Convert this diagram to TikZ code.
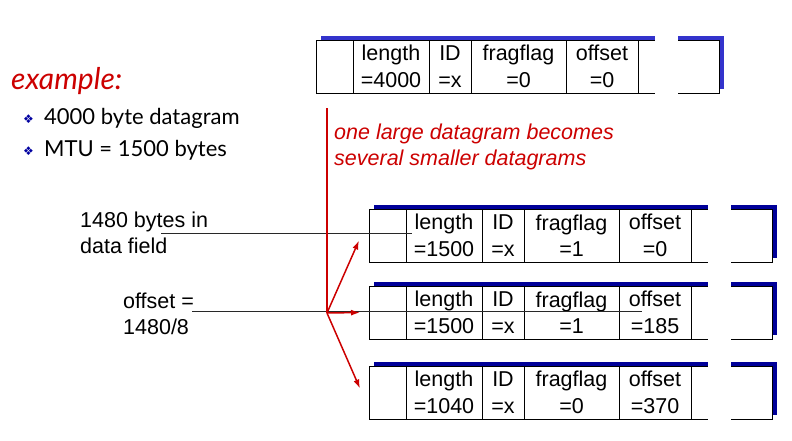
\documentclass[tikz,border=0pt]{standalone}
\usepackage{fontspec}
\setmainfont{Liberation Sans}
\newfontfamily\gillfont{Lato}
\newfontfamily\symbfont{DejaVu Sans}
\usepackage{xcolor}
\usepackage{tikz}
\usetikzlibrary{
  arrows.meta,
  positioning
}
\definecolor{FragRed}{RGB}{204, 0, 0}
\definecolor{ShadowBlue}{RGB}{51, 51, 204}
\definecolor{ShadowNavy}{RGB}{0, 0, 153}
\definecolor{BulletBlue}{RGB}{0, 0, 160}
\definecolor{PointerGray}{RGB}{40, 40, 40}
\tikzset{
    cell/.style={draw, fill=white, line width=1pt, inner sep=0pt, outer sep=0pt, minimum height=53pt,
        anchor=north west, align=center, font=\fontsize{21.5}{26.5}\selectfont},
    fragline/.style={draw=FragRed, line width=1.5pt},
    fragarrow/.style={fragline, -{Latex[length=9pt,width=6pt]}},
    pointer/.style={draw=PointerGray, line width=0.8pt},
    label/.style={anchor=west, inner sep=0pt, align=left, font=\fontsize{21.5}{26}\selectfont}
}
\newcommand{\pkt}[7]{%
    \fill[#7] (#2+5,#3-4.5) rectangle ++(403,53);
    \node[cell, minimum width=37pt] (#1-h) at (#2,#3) {};
    \node[cell, minimum width=76pt] (#1-len) at (#2+37,#3) {length\\=#4};
    \node[cell, minimum width=42pt] (#1-id) at (#2+113,#3) {ID\\=x};
    \node[cell, minimum width=95pt] (#1-flag) at (#2+155,#3) {fragflag\\=#5};
    \node[cell, minimum width=72pt] (#1-off) at (#2+250,#3) {offset\\=#6};
    \node[cell, minimum width=81pt] (#1-data) at (#2+322,#3) {};
    \fill[white] (#2+339,#3-6) rectangle (#2+362,#3+55);
}

\begin{document}
\begin{tikzpicture}[x=1pt, y=-1pt]
    \useasboundingbox (0,0) rectangle (792,440);

    \node[anchor=west, inner sep=0pt, text=FragRed, font=\gillfont\itshape\fontsize{30}{33}\selectfont] (example) at (11,81) {example:};
    \node[anchor=west, inner sep=0pt, text=BulletBlue, font=\symbfont\fontsize{12}{14}\selectfont] (bullet-a) at (23,119) {❖};
    \node[anchor=west, inner sep=0pt, font=\gillfont\fontsize{22}{25}\selectfont] (dgram) at (44,118) {4000 byte datagram};
    \node[anchor=west, inner sep=0pt, text=BulletBlue, font=\symbfont\fontsize{12}{14}\selectfont] (bullet-b) at (23,151) {❖};
    \node[anchor=west, inner sep=0pt, font=\gillfont\fontsize{22}{25}\selectfont] (mtu) at (44,150) {MTU = 1500 bytes};

    \pkt{big}{316}{40}{4000}{0}{0}{ShadowBlue}
    \pkt{f1}{369}{209}{1500}{1}{0}{ShadowNavy}
    \pkt{f2}{369}{286}{1500}{1}{185}{ShadowNavy}
    \pkt{f3}{369}{366}{1040}{0}{370}{ShadowNavy}

    \node[anchor=north west, inner sep=0pt, align=left, text=FragRed, font=\itshape\fontsize{21.5}{26}\selectfont] (becomes) at (334,124) {one large datagram becomes\\several smaller datagrams};

    \node[label] (lbl-data) at (80,233) {1480 bytes in\\data field};
    \node[label] (lbl-off) at (123,314) {offset =\\1480/8};

    \draw[pointer] ([xshift=81pt]lbl-data.west) -- ([xshift=6pt,yshift=2.5pt]f1-len.west);
    \draw[pointer] ([xshift=-2pt,yshift=1.5pt]lbl-off.east |- f2-h.west) -- ([xshift=23pt,yshift=1.5pt]f2-off.west);

    \coordinate (src) at (327,108);
    \coordinate (split) at (327,313);
    \draw[fragline] (src) -- (split);
    \draw[fragarrow] (split) -- ([xshift=-10pt,yshift=-5pt]f1-h.west);
    \draw[fragarrow] (split) -- ([xshift=-9pt]f2-h.west);
    \draw[fragarrow] (split) -- ([xshift=-9pt,yshift=4pt]f3-h.west);
\end{tikzpicture}
\end{document}
